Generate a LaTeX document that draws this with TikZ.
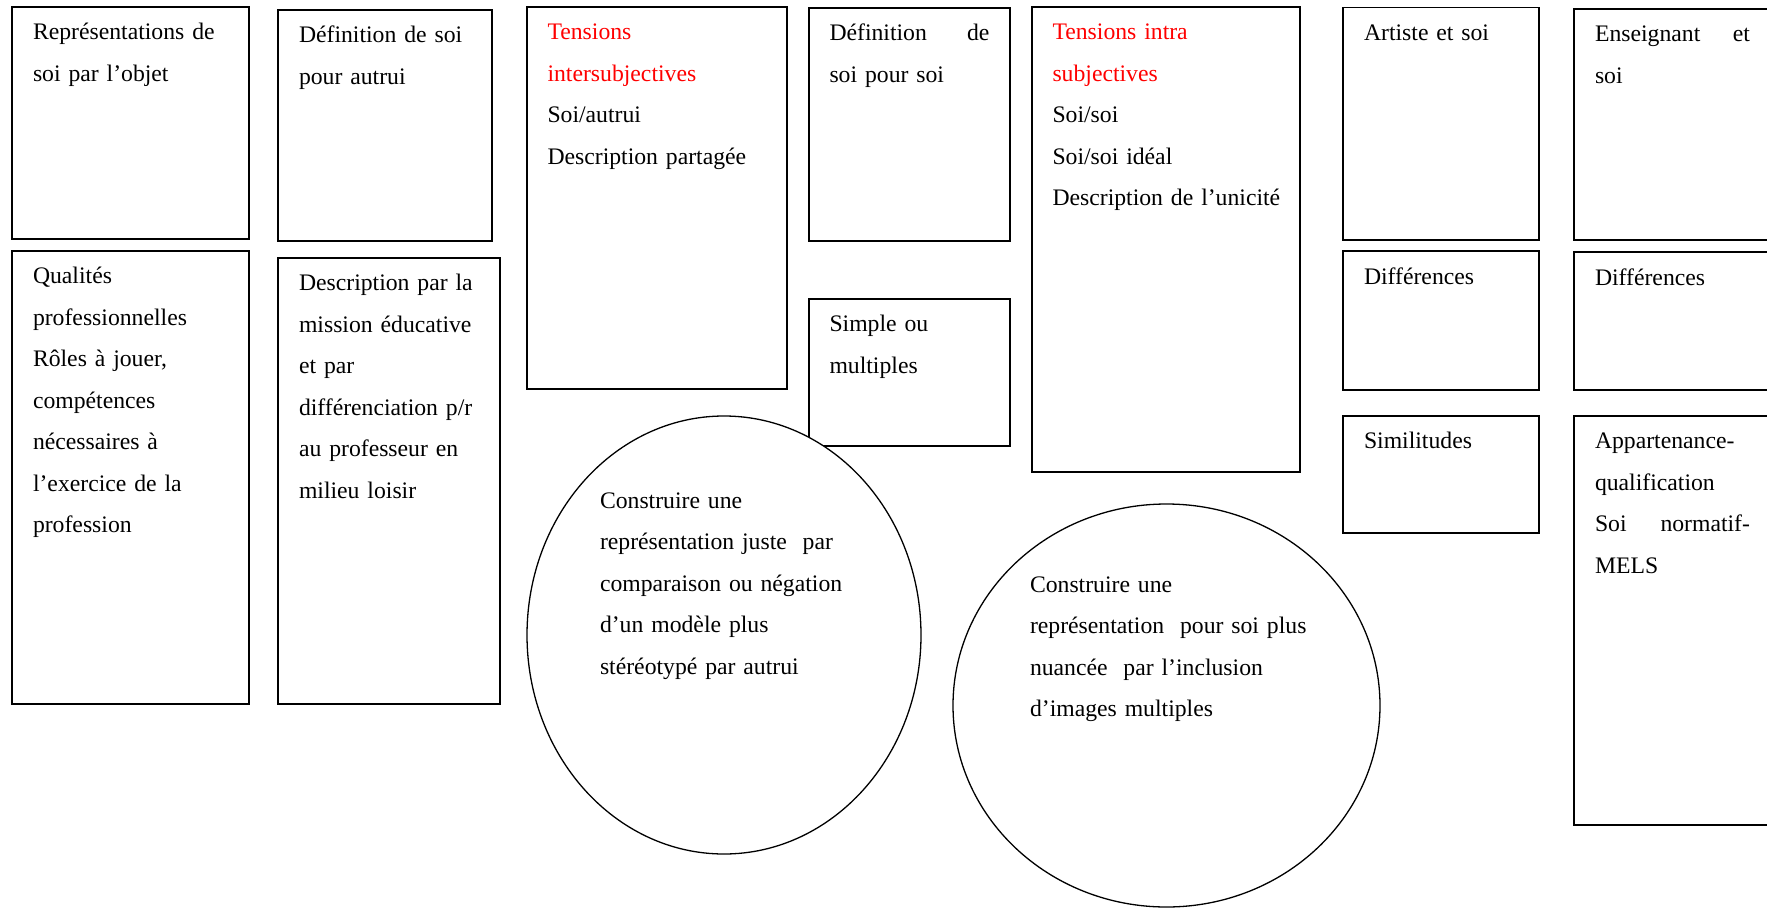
\documentclass[tikz,border=0pt]{standalone}
\usepackage{fontspec}
\setmainfont{Liberation Serif}
\usetikzlibrary{shapes.geometric}
\definecolor{titlered}{RGB}{255,0,0}
\newcommand\redhead[1]{\textcolor{titlered}{#1}}

\begin{document}
\begin{tikzpicture}[x=1pt,y=-1pt,
  cell/.style={draw, line width=1.8pt, rectangle, anchor=north west,
    inner sep=0pt, outer sep=0pt},
  bubble/.style={draw, line width=1.3pt, ellipse, fill=white,
    inner sep=0pt, outer sep=0pt},
  txt/.style={anchor=base west, inner sep=0pt, outer sep=0pt,
    text width=#1, align=left, font=\fontsize{23.7}{41.5}\selectfont},
  txt/.default=300pt]

\useasboundingbox (0,0) rectangle (1767,908);

% first column
\node[cell, minimum width=237pt, minimum height=232pt] (A) at (12,7) {};
\node[cell, minimum width=237pt, minimum height=453pt] (C) at (12,251) {};
% second column
\node[cell, minimum width=214pt, minimum height=231pt] (B) at (278,10) {};
\node[cell, minimum width=222pt, minimum height=446pt] (D) at (278,258) {};
% third column
\node[cell, minimum width=260pt, minimum height=382pt] (E) at (527,7) {};
% fourth column
\node[cell, minimum width=201pt, minimum height=233pt] (F) at (809,8) {};
\node[cell, minimum width=201pt, minimum height=147pt] (G) at (809,299) {};
% fifth column
\node[cell, minimum width=268pt, minimum height=465pt] (H) at (1032,7) {};
% artist column
\node[cell, minimum width=196pt, minimum height=232.5pt] (I) at (1343,7.5) {};
\node[cell, minimum width=196pt, minimum height=139pt] (K) at (1343,251) {};
\node[cell, minimum width=196pt, minimum height=117pt] (M) at (1343,416) {};
% teacher column
\node[cell, minimum width=201pt, minimum height=231pt] (J) at (1574,9) {};
\node[cell, minimum width=201pt, minimum height=138pt] (L) at (1574,252) {};
\node[cell, minimum width=201pt, minimum height=409pt] (N) at (1574,416) {};

% texts of the boxes
\node[txt] (tA) at ([shift={(21,32.5)}]A.north west)
  {Représentations de\\soi par l’objet};
\node[txt] (tC) at ([shift={(21,32.5)}]C.north west)
  {Qualités\\professionnelles\\Rôles à jouer,\\compétences\\nécessaires à\\l’exercice de la\\profession};
\node[txt] (tB) at ([shift={(21,32.5)}]B.north west)
  {Définition de soi\\pour autrui};
\node[txt] (tD) at ([shift={(21,32.5)}]D.north west)
  {Description par la\\mission éducative\\et par\\différenciation p/r\\au professeur en\\milieu loisir};
\node[txt] (tE) at ([shift={(20.5,32.5)}]E.north west)
  {\redhead{Tensions}\\\redhead{intersubjectives}\\Soi/autrui\\Description partagée};
\node[txt=160pt] (tF) at ([shift={(20.5,32.5)}]F.north west)
  {Définition\hfill de\\soi pour soi};
\node[txt] (tG) at ([shift={(20.5,32.5)}]G.north west)
  {Simple ou\\multiples};
\node[txt] (tH) at ([shift={(20.5,32.5)}]H.north west)
  {\redhead{Tensions intra}\\\redhead{subjectives}\\Soi/soi\\Soi/soi idéal\\Description de l’unicité};
\node[txt] (tI) at ([shift={(21,32.5)}]I.north west) {Artiste et soi};
\node[txt] (tK) at ([shift={(21,33)}]K.north west) {Différences};
\node[txt] (tM) at ([shift={(21,32.5)}]M.north west) {Similitudes};
\node[txt=155pt] (tJ) at ([shift={(21,32.5)}]J.north west)
  {Enseignant\hfill et\\soi};
\node[txt] (tL) at ([shift={(21,33)}]L.north west) {Différences};
\node[txt=155pt] (tN) at ([shift={(21,32.5)}]N.north west)
  {Appartenance-\\qualification\\Soi\hfill normatif-\\MELS};

% the two bubbles
\node[bubble, minimum width=394pt, minimum height=438pt] (O1) at (724,635) {};
\node[txt] (t1) at ([shift={(-124,-127)}]O1.center)
  {Construire une\\représentation juste\ \ par\\comparaison ou négation\\d’un modèle plus\\stéréotypé par autrui};
\node[bubble, minimum width=427pt, minimum height=403pt] (O2) at (1166.5,705.5) {};
\node[txt] (t2) at ([shift={(-136.5,-113.5)}]O2.center)
  {Construire une\\représentation\ \ pour soi plus\\nuancée\ \ par l’inclusion\\d’images multiples};
\end{tikzpicture}
\end{document}
